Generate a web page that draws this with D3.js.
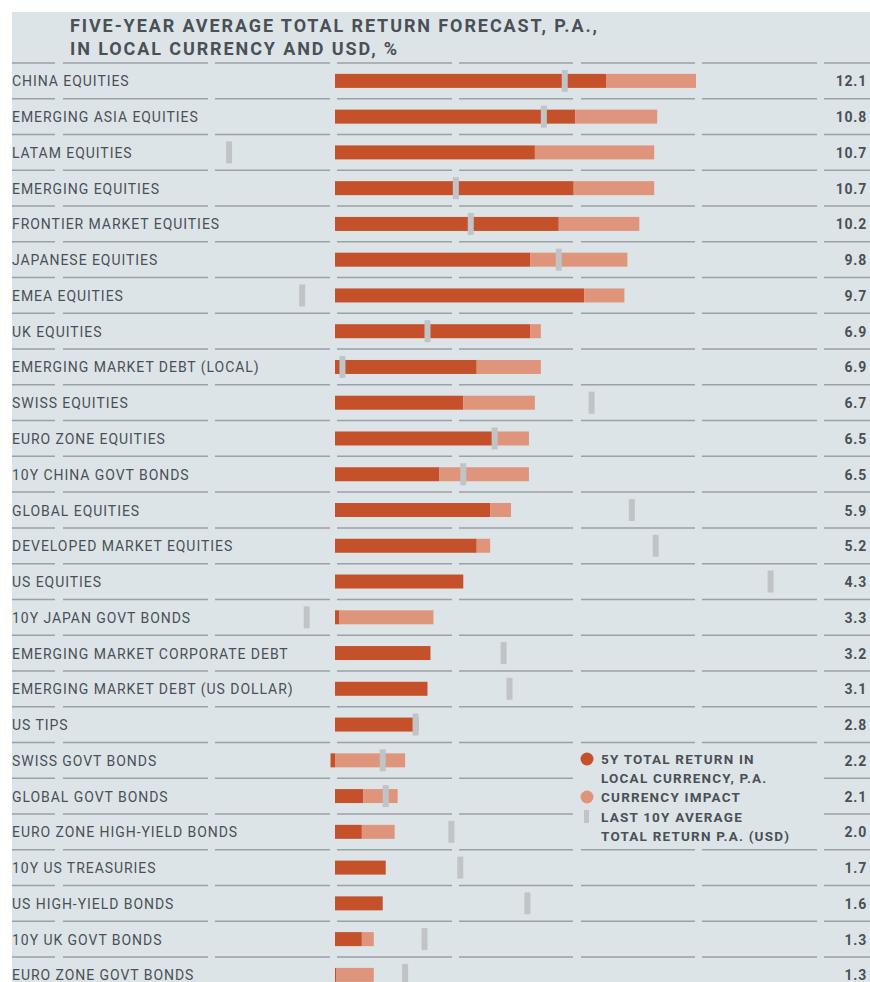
<!DOCTYPE html>
<html>
<head>
<meta charset="utf-8">
<script src="https://cdn.jsdelivr.net/npm/d3@7"></script>
<style>
  body { margin: 0; background: #fff; }
  svg { display: block; }
  text { font-family: Roboto, "Liberation Sans", sans-serif; fill: #4a5056; }
</style>
</head>
<body>
<svg id="chart"></svg>
<script>
const categories = [
  "CHINA EQUITIES", "EMERGING ASIA EQUITIES", "LATAM EQUITIES", "EMERGING EQUITIES",
  "FRONTIER MARKET EQUITIES", "JAPANESE EQUITIES", "EMEA EQUITIES", "UK EQUITIES",
  "EMERGING MARKET DEBT (LOCAL)", "SWISS EQUITIES", "EURO ZONE EQUITIES", "10Y CHINA GOVT BONDS",
  "GLOBAL EQUITIES", "DEVELOPED MARKET EQUITIES", "US EQUITIES", "10Y JAPAN GOVT BONDS",
  "EMERGING MARKET CORPORATE DEBT", "EMERGING MARKET DEBT (US DOLLAR)", "US TIPS", "SWISS GOVT BONDS",
  "GLOBAL GOVT BONDS", "EURO ZONE HIGH-YIELD BONDS", "10Y US TREASURIES", "US HIGH-YIELD BONDS",
  "10Y UK GOVT BONDS", "EURO ZONE GOVT BONDS"
];
// total return in USD (value shown at right)
const totalUsd = [12.1, 10.8, 10.7, 10.7, 10.2, 9.8, 9.7, 6.9, 6.9, 6.7, 6.5, 6.5, 5.9, 5.2, 4.3, 3.3, 3.2, 3.1, 2.8, 2.2, 2.1, 2.0, 1.7, 1.6, 1.3, 1.3];
// 5y total return in local currency
const localRet = [9.1, 8.05, 6.7, 8.0, 7.5, 6.55, 8.35, 6.55, 4.75, 4.3, 5.3, 3.5, 5.2, 4.75, 4.3, 0.15, 3.2, 3.1, 2.65, -0.15, 0.95, 0.9, 1.7, 1.6, 0.9, 0.05];
// last 10y average total return p.a. (USD)
const tenYearAvg = [7.7, 7.0, -3.55, 4.05, 4.55, 7.5, -1.1, 3.1, 0.25, 8.6, 5.35, 4.3, 9.95, 10.75, 14.6, -0.95, 5.65, 5.85, 2.7, 1.6, 1.7, 3.9, 4.2, 6.45, 3.0, 2.35];

const titleLines = ["FIVE-YEAR AVERAGE TOTAL RETURN FORECAST, P.A.,", "IN LOCAL CURRENCY AND USD, %"];
const legendItems = [
  { kind: "local", lines: ["5Y TOTAL RETURN IN", "LOCAL CURRENCY, P.A."] },
  { kind: "ccy", lines: ["CURRENCY IMPACT"] },
  { kind: "avg", lines: ["LAST 10Y AVERAGE", "TOTAL RETURN P.A. (USD)"] }
];

const W = 870, H = 982;
const colors = { local: "#c4512a", ccy: "#de957b", avg: "#c0c4c7", bg: "#dde4e8", grid: "#9ba1a7" };

const data = categories.map((c, i) => ({
  name: c, total: totalUsd[i], local: localRet[i], avg: tenYearAvg[i], ccy: totalUsd[i] - localRet[i]
}));

const svg = d3.select("#chart").attr("width", W).attr("height", H);

svg.append("rect").attr("x", 12).attr("y", 12).attr("width", W - 12).attr("height", H - 12).attr("fill", colors.bg);

const x = d3.scaleLinear().domain([0, 12.1]).range([335, 696]);
const y = d3.scaleBand().domain(categories).range([63, 63 + 35.76 * categories.length]);
const bh = 14;

// title
svg.append("g").selectAll("text").data(titleLines).join("text")
  .attr("x", 70).attr("y", (d, i) => 32 + i * 23)
  .style("font-size", "18px").style("font-weight", 700).style("letter-spacing", "1.9px")
  .text(d => d);

// broken grid lines
const segs = [[12, 55], [63, 208], [215, 330], [337, 452], [459, 573], [581, 695], [702, 817], [824, 870]];
const rowLines = categories.map(c => y(c));
const grid = svg.append("g");
rowLines.forEach(yy => {
  grid.selectAll(null).data(segs).join("line")
    .attr("x1", d => d[0]).attr("x2", d => d[1])
    .attr("y1", yy).attr("y2", yy)
    .attr("stroke", colors.grid).attr("stroke-width", 1.5);
});

const rows = svg.append("g").selectAll("g").data(data).join("g")
  .attr("transform", d => `translate(0,${y(d.name) + y.bandwidth() / 2})`);

rows.append("text").attr("x", 12).attr("y", 5.5)
  .style("font-size", "14px").style("letter-spacing", "0.95px")
  .text(d => d.name);

rows.append("rect")
  .attr("x", d => x(Math.min(0, d.local)))
  .attr("width", d => Math.abs(x(d.local) - x(0)))
  .attr("y", -bh / 2).attr("height", bh)
  .attr("fill", colors.local);

rows.append("rect")
  .attr("x", d => x(Math.max(0, d.local)))
  .attr("width", d => Math.max(0, x(Math.max(0, d.local) + d.ccy) - x(Math.max(0, d.local))))
  .attr("y", -bh / 2).attr("height", bh)
  .attr("fill", colors.ccy);

rows.append("rect")
  .attr("x", d => x(d.avg) - 3).attr("width", 6)
  .attr("y", -11).attr("height", 22)
  .attr("fill", colors.avg);

rows.append("text").attr("x", 867).attr("y", 5.5).attr("text-anchor", "end")
  .style("font-size", "14px").style("font-weight", 700).style("letter-spacing", "0.8px")
  .text(d => d3.format(".1f")(d.total));

// legend
const lg = svg.append("g");
lg.append("rect").attr("x", 578).attr("y", 746).attr("width", 242).attr("height", 100).attr("fill", colors.bg);
const legendY = [759, 797, 817];
legendItems.forEach((item, i) => {
  const ly = legendY[i];
  if (item.kind === "avg") {
    lg.append("rect").attr("x", 584).attr("y", ly - 7).attr("width", 5).attr("height", 13).attr("fill", colors.avg);
  } else {
    lg.append("circle").attr("cx", 587).attr("cy", ly).attr("r", 6.5).attr("fill", colors[item.kind]);
  }
  lg.append("g").selectAll("text").data(item.lines).join("text")
    .attr("x", 601).attr("y", (d, j) => ly + 5 + j * 19)
    .style("font-size", "13.5px").style("font-weight", 700).style("letter-spacing", "1.2px")
    .text(d => d);
});
</script>
</body>
</html>
